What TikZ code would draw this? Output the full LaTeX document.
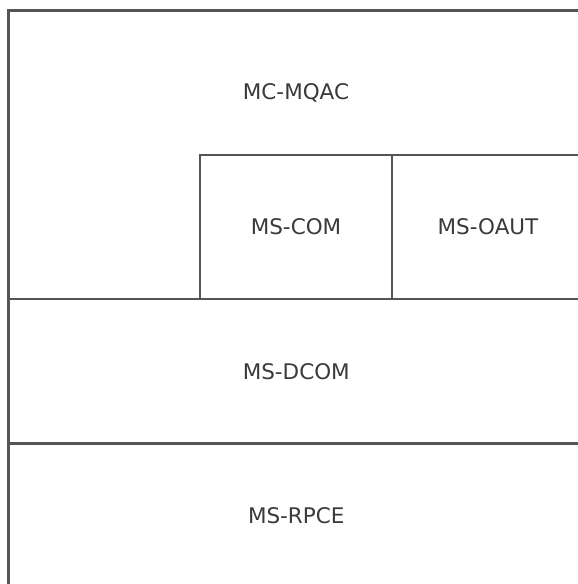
\documentclass[tikz,border=0pt]{standalone}
\usepackage{fontspec}
\setmainfont{DejaVu Sans}
\usetikzlibrary{positioning}
\definecolor{linegray}{HTML}{555555}
\definecolor{textgray}{HTML}{3A3A3A}

\begin{document}
\begin{tikzpicture}[x=1pt, y=-1pt,
  layer/.style={draw=linegray, line width=2.6pt, rectangle, inner sep=0pt, outer sep=0pt, align=center, font=\fontsize{21.5}{26}\selectfont, text=textgray}]

  \useasboundingbox (0,0) rectangle (578,584);
  \clip (0,0) rectangle (578,584);

  % MC-MQAC
  \node[layer, anchor=north west, minimum width=575.5pt, minimum height=288.5pt] (mqac) at (8.5,10.5) {};
  \node[font=\fontsize{21.5}{26}\selectfont, text=textgray] (mqac-label) at (296,93) {MC-MQAC};

  % MS-COM and MS-OAUT
  \node[layer, anchor=south west, minimum width=192pt, minimum height=144pt] (com) at (200,299) {MS-COM};
  \node[layer, right=0pt of com, minimum width=192pt, minimum height=144pt] (oaut) {MS-OAUT};

  % MS-DCOM
  \node[layer, below=0pt of mqac, minimum width=575.5pt, minimum height=144.5pt] (dcom) {MS-DCOM};

  % MS-RPCE
  \node[layer, below=0pt of dcom, minimum width=575.5pt, minimum height=143.5pt] (rpce) {MS-RPCE};

\end{tikzpicture}
\end{document}
